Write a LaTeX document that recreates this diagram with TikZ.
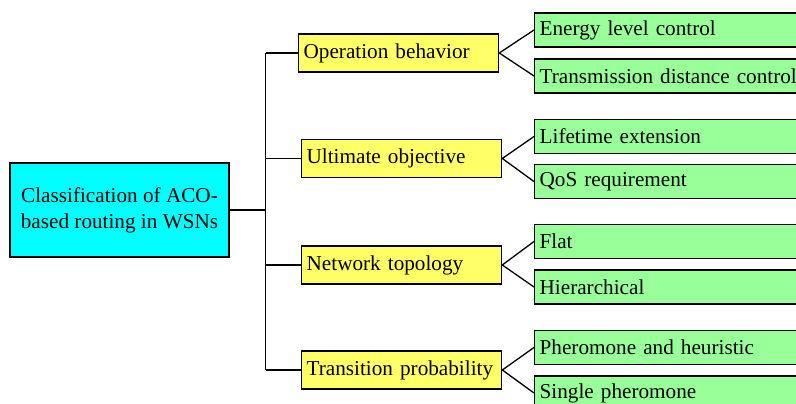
\documentclass[tikz,border=0pt]{standalone}
\usepackage{fontspec}
\setmainfont{Liberation Serif}
\usepackage{tikz}
\usetikzlibrary{positioning}

\definecolor{rootcyan}{RGB}{0,255,255}
\definecolor{catyellow}{RGB}{255,255,102}
\definecolor{leafgreen}{RGB}{153,255,153}

\tikzset{
  box/.style={draw, line width=1.3pt, rectangle, inner xsep=5pt, inner ysep=0pt,
    font=\fontsize{21.2}{26}\selectfont},
  rootbox/.style={box, fill=rootcyan, align=center, minimum width=219pt, minimum height=94pt},
  catbox/.style={box, fill=catyellow, anchor=west, text width=190pt, align=left, minimum height=38pt},
  leafbox/.style={box, fill=leafgreen, anchor=west, text width=320pt, align=left, minimum height=34pt},
  link/.style={line width=1.3pt}
}

\begin{document}
\begin{tikzpicture}[x=1pt, y=-1pt]

  \clip (0,0) rectangle (796,404);

  \node[rootbox] (root) at (119.5,210) {Classification of ACO-\\based routing in WSNs};

  \node[catbox] (ob) at (298,53) {Operation behavior};
  \node[catbox] (uo) at (301,158.5) {Ultimate objective};
  \node[catbox] (nt) at (301,265) {Network topology};
  \node[catbox] (tp) at (301,370) {Transition probability};

  \node[leafbox] (energy) at (534,30) {Energy level control};
  \node[leafbox] (dist) at (534,76) {Transmission distance control};
  \node[leafbox] (life) at (534,136.5) {Lifetime extension};
  \node[leafbox] (qos) at (534,181.5) {QoS requirement};
  \node[leafbox] (flat) at (534,241.5) {Flat};
  \node[leafbox] (hier) at (534,287) {Hierarchical};
  \node[leafbox] (heur) at (534,347.5) {Pheromone and heuristic};
  \node[leafbox] (single) at (534,393) {Single pheromone};

  \coordinate (bus) at ([xshift=36pt]root.east);

  % trunk from the root to the four criteria
  \draw[link] (root.east) -- (bus);
  \draw[link] (bus |- ob.west) -- (bus |- tp.west);
  \draw[link] (bus |- ob.west) -- (ob.west);
  \draw[link] (bus |- uo.west) -- (uo.west);
  \draw[link] (bus |- nt.west) -- (nt.west);
  \draw[link] (bus |- tp.west) -- (tp.west);

  % each criterion splits in two
  \draw[link] (energy.west) -- (ob.east) -- (dist.west);
  \draw[link] (life.west) -- (uo.east) -- (qos.west);
  \draw[link] (flat.west) -- (nt.east) -- (hier.west);
  \draw[link] (heur.west) -- (tp.east) -- (single.west);

\end{tikzpicture}
\end{document}
